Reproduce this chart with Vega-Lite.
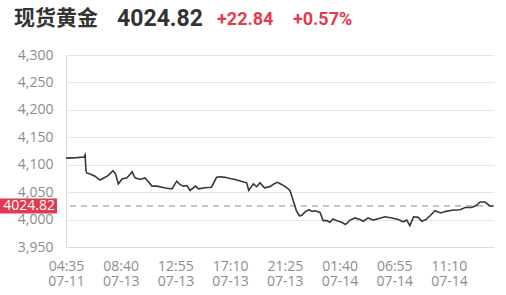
{
  "$schema": "https://vega.github.io/schema/vega-lite/v6.json",
  "width": 428,
  "height": 192,
  "autosize": {"type": "none"},
  "padding": {"left": 66, "top": 55, "right": 12, "bottom": 48},
  "background": "white",
  "config": {"view": {"stroke": null}, "font": "Open Sans"},
  "datasets": {
    "price": [
      {"i": 0, "v": 4112}, {"i": 50, "v": 4113}, {"i": 84, "v": 4114}, {"i": 89, "v": 4118},
      {"i": 93, "v": 4090}, {"i": 96, "v": 4085}, {"i": 107, "v": 4084}, {"i": 135, "v": 4079},
      {"i": 158, "v": 4072}, {"i": 172, "v": 4075}, {"i": 196, "v": 4080}, {"i": 219, "v": 4089},
      {"i": 231, "v": 4083}, {"i": 244, "v": 4065}, {"i": 261, "v": 4074}, {"i": 284, "v": 4076},
      {"i": 298, "v": 4082}, {"i": 308, "v": 4087}, {"i": 322, "v": 4076}, {"i": 345, "v": 4073},
      {"i": 368, "v": 4076}, {"i": 384, "v": 4069}, {"i": 401, "v": 4061}, {"i": 424, "v": 4061},
      {"i": 447, "v": 4059}, {"i": 471, "v": 4057}, {"i": 494, "v": 4056}, {"i": 516, "v": 4070},
      {"i": 531, "v": 4064}, {"i": 547, "v": 4061}, {"i": 564, "v": 4062}, {"i": 578, "v": 4053},
      {"i": 604, "v": 4061}, {"i": 618, "v": 4056}, {"i": 648, "v": 4058}, {"i": 678, "v": 4059},
      {"i": 702, "v": 4077}, {"i": 718, "v": 4078}, {"i": 741, "v": 4077}, {"i": 764, "v": 4075},
      {"i": 788, "v": 4073}, {"i": 816, "v": 4070}, {"i": 842, "v": 4067}, {"i": 852, "v": 4053},
      {"i": 873, "v": 4065}, {"i": 889, "v": 4060}, {"i": 904, "v": 4067}, {"i": 925, "v": 4058},
      {"i": 951, "v": 4060}, {"i": 969, "v": 4065}, {"i": 986, "v": 4068}, {"i": 1005, "v": 4064},
      {"i": 1023, "v": 4060}, {"i": 1044, "v": 4053}, {"i": 1058, "v": 4036}, {"i": 1074, "v": 4016},
      {"i": 1088, "v": 4007}, {"i": 1100, "v": 4008}, {"i": 1114, "v": 4014}, {"i": 1133, "v": 4018},
      {"i": 1147, "v": 4015}, {"i": 1161, "v": 4016}, {"i": 1184, "v": 4013}, {"i": 1199, "v": 3998},
      {"i": 1216, "v": 3998}, {"i": 1231, "v": 3995}, {"i": 1244, "v": 4001}, {"i": 1263, "v": 3998},
      {"i": 1285, "v": 3995}, {"i": 1303, "v": 3991}, {"i": 1324, "v": 3999}, {"i": 1347, "v": 4003},
      {"i": 1370, "v": 4000}, {"i": 1386, "v": 3997}, {"i": 1408, "v": 4003}, {"i": 1432, "v": 3999},
      {"i": 1459, "v": 4002}, {"i": 1487, "v": 4005}, {"i": 1519, "v": 4003}, {"i": 1549, "v": 4000},
      {"i": 1572, "v": 3996}, {"i": 1588, "v": 3999}, {"i": 1603, "v": 3989}, {"i": 1620, "v": 4005},
      {"i": 1642, "v": 4004}, {"i": 1658, "v": 3997}, {"i": 1678, "v": 4000}, {"i": 1697, "v": 4007},
      {"i": 1720, "v": 4016}, {"i": 1746, "v": 4012}, {"i": 1771, "v": 4015}, {"i": 1799, "v": 4017},
      {"i": 1837, "v": 4018}, {"i": 1860, "v": 4022}, {"i": 1891, "v": 4022}, {"i": 1914, "v": 4026},
      {"i": 1930, "v": 4032}, {"i": 1953, "v": 4032}, {"i": 1976, "v": 4025}, {"i": 1992, "v": 4024.82}
    ],
    "header": [
      {"name": "现货黄金", "last": "4024.82", "lastValue": 4024.82, "change": "+22.84", "pct": "+0.57%"}
    ]
  },
  "layer": [
    {
      "data": {"name": "header"},
      "mark": {"type": "rule", "color": "#8a8a8a", "strokeWidth": 1, "strokeDash": [6, 5]},
      "encoding": {
        "y": {"field": "lastValue", "type": "quantitative"}
      }
    },
    {
      "data": {"name": "price"},
      "mark": {"type": "line", "color": "#383838", "strokeWidth": 1.6},
      "encoding": {
        "x": {
          "field": "i",
          "type": "quantitative",
          "scale": {"domain": [0, 1995], "nice": false, "zero": false},
          "axis": {
            "title": null,
            "values": [0, 255, 510, 765, 1020, 1275, 1530, 1785],
            "tickCount": 20,
            "labelExpr": "[['04:35','07-11'],['08:40','07-13'],['12:55','07-13'],['17:10','07-13'],['21:25','07-13'],['01:40','07-14'],['06:55','07-14'],['11:10','07-14']][round(datum.value/255)]",
            "grid": false,
            "ticks": false,
            "domainColor": "#dddddd",
            "labelColor": "#8c8c8c",
            "labelFontSize": 14,
            "labelPadding": 12,
            "labelLineHeight": 15,
            "labelOverlap": false,
            "labelBound": false,
            "labelFlush": false
          }
        },
        "y": {
          "field": "v",
          "type": "quantitative",
          "scale": {"domain": [3950, 4300], "nice": false, "zero": false},
          "axis": {
            "title": null,
            "values": [3950, 4000, 4050, 4100, 4150, 4200, 4250, 4300],
            "tickCount": 20,
            "format": ",.0f",
            "grid": true,
            "gridColor": "#e6e6e6",
            "ticks": false,
            "labelPadding": 13,
            "labelColor": "#8c8c8c",
            "labelFontSize": 14,
            "domainColor": "#dddddd",
            "labelOverlap": false,
            "labelBound": false
          }
        }
      }
    },
    {
      "data": {"name": "header"},
      "mark": {"type": "rect", "color": "#e23b50"},
      "encoding": {
        "x": {"datum": -308, "type": "quantitative"},
        "x2": {"datum": -42},
        "y": {"datum": 4038.5, "type": "quantitative"},
        "y2": {"datum": 4011.1}
      }
    },
    {
      "data": {"name": "header"},
      "mark": {"type": "text", "align": "center", "baseline": "middle", "font": "Open Sans", "fontSize": 14, "color": "#ffffff", "dy": 0.5},
      "encoding": {
        "x": {"datum": -172, "type": "quantitative"},
        "y": {"field": "lastValue", "type": "quantitative"},
        "text": {"field": "last"}
      }
    },
    {
      "data": {"name": "header"},
      "mark": {"type": "text", "align": "left", "baseline": "alphabetic", "font": "Noto Sans CJK SC", "fontSize": 21, "fontWeight": "bold", "color": "#333333"},
      "encoding": {
        "x": {"datum": -242, "type": "quantitative"},
        "y": {"datum": 4354, "type": "quantitative"},
        "text": {"field": "name"}
      }
    },
    {
      "data": {"name": "header"},
      "mark": {"type": "text", "align": "left", "baseline": "alphabetic", "font": "Roboto", "fontSize": 23, "fontWeight": "bold", "color": "#333333"},
      "encoding": {
        "x": {"datum": 238, "type": "quantitative"},
        "y": {"datum": 4352, "type": "quantitative"},
        "text": {"field": "last"}
      }
    },
    {
      "data": {"name": "header"},
      "mark": {"type": "text", "align": "left", "baseline": "alphabetic", "font": "Roboto", "fontSize": 18, "fontWeight": "bold", "color": "#e23b50"},
      "encoding": {
        "x": {"datum": 704, "type": "quantitative"},
        "y": {"datum": 4354.5, "type": "quantitative"},
        "text": {"field": "change"}
      }
    },
    {
      "data": {"name": "header"},
      "mark": {"type": "text", "align": "left", "baseline": "alphabetic", "font": "Roboto", "fontSize": 18, "fontWeight": "bold", "color": "#e23b50"},
      "encoding": {
        "x": {"datum": 1058, "type": "quantitative"},
        "y": {"datum": 4354.5, "type": "quantitative"},
        "text": {"field": "pct"}
      }
    }
  ]
}
